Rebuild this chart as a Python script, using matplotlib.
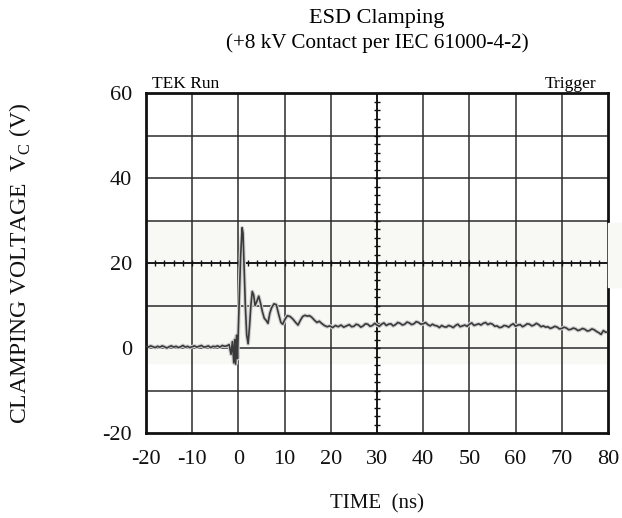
"""ESD clamping scope capture (+8 kV contact, IEC 61000-4-2), redrawn in matplotlib."""

import numpy as np
import matplotlib
matplotlib.use("Agg")
import matplotlib.pyplot as plt
from matplotlib.patches import Rectangle

plt.rcParams["font.family"] = ["Liberation Serif", "DejaVu Serif"]
plt.rcParams["mathtext.fontset"] = "custom"
plt.rcParams["mathtext.rm"] = "Liberation Serif"
plt.rcParams["axes.unicode_minus"] = False

# time axis (ns) and clamping voltage (V)
time_ns = [
    -20.0, -19.5, -19.0, -18.5, -18.0, -17.5, -17.0, -16.5, -16.0, -15.5,
    -15.0, -14.5, -14.0, -13.5, -13.0, -12.5, -12.0, -11.5, -11.0, -10.5,
    -10.0, -9.5, -9.0, -8.5, -8.0, -7.5, -7.0, -6.5, -6.0, -5.5,
    -5.0, -4.5, -4.0, -3.5, -3.0, -2.5, -2.0, -1.6, -1.3, -1.0,
    -0.8, -0.6, -0.4, -0.2, 0.0, 0.2, 0.5, 0.8, 1.0, 1.2,
    1.5, 1.8, 2.1, 2.4, 2.7, 3.0, 3.3, 3.6, 4.0, 4.4,
    4.8, 5.2, 5.6, 6.0, 6.4, 6.8, 7.2, 7.7, 8.2, 8.7,
    9.2, 9.6, 10.1, 10.6, 11.2, 11.8, 12.4, 12.9, 13.4, 13.9,
    14.4, 14.9, 15.4, 15.9, 16.5, 17.0, 17.5, 18.0, 18.6, 19.2,
    19.8, 20.4, 21.0, 21.6, 22.2, 22.8, 23.4,
    24.0, 24.5, 25.0, 25.5, 26.0, 26.5, 27.0, 27.5, 28.0, 28.5,
    29.0, 29.5, 30.0, 30.5, 31.0, 31.5, 32.0, 32.5, 33.0, 33.5,
    34.0, 34.5, 35.0, 35.5, 36.0, 36.5, 37.0, 37.5, 38.0, 38.5,
    39.0, 39.5, 40.0, 40.5, 41.0, 41.5, 42.0, 42.5, 43.0, 43.5,
    44.0, 44.5, 45.0, 45.5, 46.0, 46.5, 47.0, 47.5, 48.0, 48.5,
    49.0, 49.5, 50.0, 50.5, 51.0, 51.5, 52.0, 52.5, 53.0, 53.5,
    54.0, 54.5, 55.0, 55.5, 56.0, 56.5, 57.0, 57.5, 58.0, 58.5,
    59.0, 59.5, 60.0, 60.5, 61.0, 61.5, 62.0, 62.5, 63.0, 63.5,
    64.0, 64.5, 65.0, 65.5, 66.0, 66.5, 67.0, 67.5, 68.0, 68.5,
    69.0, 69.5, 70.0, 70.5, 71.0, 71.5, 72.0, 72.5, 73.0, 73.5,
    74.0, 74.5, 75.0, 75.5, 76.0, 76.5, 77.0, 77.5, 78.0, 78.5,
    79.0, 79.5, 80.0,
]
clamp_v = [
    0.4, 0.2, 0.5, 0.3, 0.1, 0.4, 0.2, 0.5, 0.3, 0.0,
    0.3, 0.5, 0.2, 0.4, 0.1, 0.3, 0.6, 0.2, 0.4, 0.1,
    0.3, 0.5, 0.2, 0.4, 0.6, 0.2, 0.3, 0.5, 0.1, 0.4,
    0.3, 0.5, 0.2, 0.6, 0.4, 0.5, 0.8, -1.5, 1.5, -3.5,
    2.0, -3.8, 3.0, -2.5, 5.0, 12.0, 22.0, 28.3, 27.0, 20.0,
    10.0, 3.0, 1.0, 5.0, 10.0, 13.3, 12.5, 10.0, 11.0, 12.2,
    10.5, 8.5, 7.0, 6.5, 5.8, 8.2, 9.5, 10.4, 10.2, 8.0,
    6.0, 5.6, 6.8, 7.6, 7.4, 6.8, 6.0, 5.4, 6.5, 7.4,
    7.7, 7.5, 7.6, 7.2, 6.5, 6.0, 6.3, 5.8, 5.3, 5.0,
    5.2, 4.8, 5.3, 5.0, 5.4, 4.9, 5.2,
    5.5, 5.0, 5.1, 5.6, 5.4, 4.9, 5.2, 5.7, 5.6, 5.1,
    5.3, 5.8, 5.4, 5.1, 5.6, 5.9, 5.3, 5.6, 5.7, 5.2,
    5.5, 6.0, 5.8, 5.4, 5.6, 6.1, 5.9, 5.5, 5.7, 6.2,
    6.0, 5.6, 5.7, 6.0, 5.5, 5.2, 5.6, 5.3, 5.2, 4.8,
    5.3, 5.0, 4.9, 5.3, 5.1, 4.8, 5.3, 5.6, 5.0, 5.2,
    5.4, 5.1, 5.6, 5.9, 5.3, 5.5, 5.7, 5.4, 5.8, 6.0,
    5.5, 5.8, 5.6, 5.1, 5.2, 4.8, 4.9, 5.3, 5.2, 4.9,
    5.4, 5.7, 5.1, 5.4, 5.5, 5.0, 5.3, 5.7, 5.6, 5.2,
    5.4, 5.8, 5.5, 5.0, 5.2, 4.9, 5.0, 4.6, 4.8, 5.1,
    4.9, 4.5, 4.6, 4.9, 4.7, 4.3, 4.4, 4.7, 4.5, 4.1,
    4.3, 4.6, 4.4, 4.0, 4.1, 4.5, 4.3, 3.9, 3.6, 3.2,
    4.1, 3.7, 3.8,
]

x_ticks = [-20, -10, 0, 10, 20, 30, 40, 50, 60, 70, 80]
y_ticks = [-20, 0, 20, 40, 60]

fig = plt.figure(figsize=(6.22, 5.18), dpi=100)
ax = fig.add_axes([146 / 622, 1 - 433 / 518, 462 / 622, 340 / 518])

# faint scanned band behind the trace
ax.axhspan(-3.5, 30, color="#f8f8f5", zorder=0)
fig.patches.append(Rectangle((608 / 622, 1 - 287 / 518), 14 / 622, 64 / 518,
                             transform=fig.transFigure, color="#f8f8f5", zorder=0))

# scope graticule: 10 ns x 10 V divisions
for x in range(-10, 80, 10):
    ax.axvline(x, color="#2b2b2b", lw=1.1, zorder=1)
for y in range(-10, 60, 10):
    ax.axhline(y, color="#2b2b2b", lw=1.1, zorder=1)

# centre crosshair with minor ticks (5 per division)
ax.axvline(30, color="#111", lw=1.2, zorder=1)
ax.axhline(20, color="#111", lw=1.2, zorder=1)
ax.plot(np.arange(-20, 81, 2), np.full(51, 20), ls="none", marker="|",
        ms=5, mew=1.0, color="#111", zorder=1)
ax.plot(np.full(41, 30), np.arange(-20, 61, 2), ls="none", marker="_",
        ms=5, mew=1.0, color="#111", zorder=1)

# trace: soft grey fringe + dark core
ax.plot(time_ns, clamp_v, color="#cfcfcf", lw=2.8, zorder=2, solid_joinstyle="round")
ax.plot(time_ns, clamp_v, color="#3a3a3a", lw=1.2, zorder=3, solid_joinstyle="round")

ax.set_xlim(-20, 80)
ax.set_ylim(-20, 60)
ax.set_xticks(x_ticks)
ax.set_yticks(y_ticks)
ax.tick_params(length=0, labelsize=16, pad=10, colors="#111")
ax.tick_params(axis="x", pad=12)
for s in ax.spines.values():
    s.set_linewidth(2.0)
    s.set_color("#111")

ax.set_xlabel("TIME  (ns)", fontsize=15, color="#111")
ax.xaxis.set_label_coords(0.5, -0.18)
ax.set_ylabel(r"CLAMPING VOLTAGE  V$_{\rm C}$ (V)", fontsize=17, color="#111")
ax.yaxis.set_label_coords(-0.245, 0.5)

ax.text(0.012, 1.004, "TEK Run", transform=ax.transAxes, fontsize=12.5, va="bottom", ha="left")
ax.text(0.975, 1.004, "Trigger", transform=ax.transAxes, fontsize=12.5, va="bottom", ha="right")

fig.text(377 / 622, 1 - 18 / 518, "ESD Clamping", fontsize=16, ha="center", va="center")
fig.text(377 / 622, 1 - 43 / 518, "(+8 kV Contact per IEC 61000-4-2)", fontsize=15.2,
         ha="center", va="center")

fig.savefig("out.png", dpi=100)
